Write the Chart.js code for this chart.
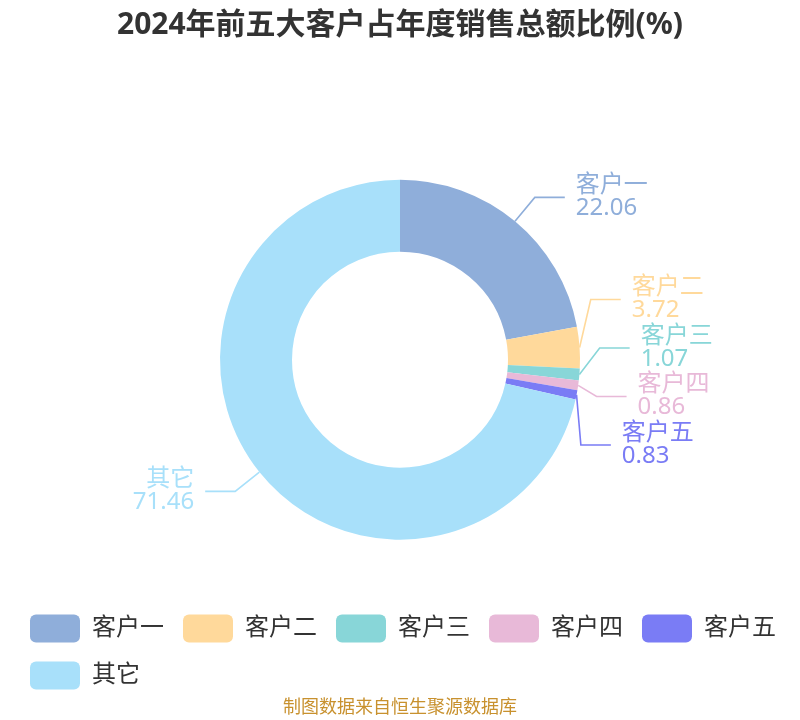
<!DOCTYPE html>
<html>
<head>
<meta charset="utf-8">
<script src="https://cdn.jsdelivr.net/npm/chart.js@4.4.1/dist/chart.umd.min.js"></script>
<style>
  html, body { margin: 0; padding: 0; background: #ffffff; }
  #wrap { width: 800px; height: 720px; }
</style>
</head>
<body>
<div id="wrap"><canvas id="c" width="800" height="720"></canvas></div>
<script>
const titleText = '2024年前五大客户占年度销售总额比例(%)';
const footerText = '制图数据来自恒生聚源数据库';
const categories = ['客户一', '客户二', '客户三', '客户四', '客户五', '其它'];
const values = [22.06, 3.72, 1.07, 0.86, 0.83, 71.46];
const colors = ['#8FAEDA', '#FFD99B', '#88D6D8', '#E8B9D8', '#7A7CF5', '#A8E0FA'];

const FONT = '"Noto Sans", "Noto Sans CJK SC", sans-serif';

const labelPlugin = {
  id: 'outLabels',
  afterLayout(chart) {
    const lg = chart.legend;
    if (lg) { lg.left += 11; lg.right += 11; lg.top += 2; lg.bottom += 2; }
  },
  afterDatasetsDraw(chart) {
    const meta = chart.getDatasetMeta(0);
    const ctx = chart.ctx;
    const items = [];
    meta.data.forEach((arc, i) => {
      const p = arc.getProps(['x', 'y', 'startAngle', 'endAngle', 'outerRadius'], true);
      const mid = (p.startAngle + p.endAngle) / 2;
      const cx = p.x, cy = p.y, R = p.outerRadius;
      const cos = Math.cos(mid), sin = Math.sin(mid);
      items.push({
        i, cx, cy, R,
        right: cos >= 0,
        sx: cx + R * cos, sy: cy + R * sin,
        ny: cy + (R + 31) * sin,
        nx: cx + (R + 31) * cos,
        y: cy + (R + 31) * sin
      });
    });
    const spacing = 48.5;
    [true, false].forEach(side => {
      const list = items.filter(o => o.right === side).sort((a, b) => a.ny - b.ny);
      let clusters = list.map(o => ({ members: [o] }));
      const place = cl => {
        const mean = cl.members.reduce((s, o) => s + o.ny, 0) / cl.members.length;
        const n = cl.members.length;
        cl.members.forEach((o, k) => { o.y = mean + (k - (n - 1) / 2) * spacing - (n > 1 ? 6 : 0); });
      };
      clusters.forEach(place);
      let changed = true;
      while (changed) {
        changed = false;
        for (let k = 0; k < clusters.length - 1; k++) {
          const a = clusters[k], b = clusters[k + 1];
          const lastA = a.members[a.members.length - 1], firstB = b.members[0];
          if (firstB.y - lastA.y < spacing) {
            a.members = a.members.concat(b.members);
            clusters.splice(k + 1, 1);
            place(a);
            changed = true;
            break;
          }
        }
      }
    });
    ctx.save();
    items.forEach(o => {
      const col = colors[o.i];
      const dir = o.right ? 1 : -1;
      const dy = o.y - o.cy;
      let ex;
      if (Math.abs(o.y - o.ny) < 1) {
        ex = o.nx;
      } else {
        const RR = o.R + 20;
        ex = o.cx + dir * Math.sqrt(Math.max(0, RR * RR - dy * dy));
      }
      const hx = ex + dir * 30;
      ctx.strokeStyle = col;
      ctx.lineWidth = 1.6;
      ctx.beginPath();
      ctx.moveTo(o.sx, o.sy);
      ctx.lineTo(ex, o.y);
      ctx.lineTo(hx, o.y);
      ctx.stroke();
      ctx.fillStyle = col;
      ctx.font = '24px ' + FONT;
      ctx.textAlign = o.right ? 'left' : 'right';
      ctx.textBaseline = 'middle';
      const tx = hx + dir * 11;
      ctx.fillText(categories[o.i], tx, o.y - 12);
      ctx.fillText(values[o.i].toFixed(2), tx, o.y + 11);
    });
    ctx.restore();
  }
};

new Chart(document.getElementById('c'), {
  type: 'doughnut',
  data: {
    labels: categories,
    datasets: [{
      data: values,
      backgroundColor: colors,
      borderWidth: 0,
      radius: 180,
      cutout: '60%'
    }]
  },
  options: {
    responsive: false,
    animation: false,
    layout: { padding: { top: 0, bottom: 0, left: 0, right: 0 } },
    plugins: {
      title: {
        display: true,
        text: titleText,
        color: '#333333',
        font: { family: FONT, size: 30, weight: 'bold' },
        padding: { top: 7, bottom: 83 }
      },
      legend: {
        display: true,
        position: 'bottom',
        align: 'start',
        labels: {
          boxWidth: 50,
          boxHeight: 28,
          padding: 19,
          useBorderRadius: true,
          borderRadius: 6,
          color: '#333333',
          font: { family: FONT, size: 24 }
        }
      },
      subtitle: {
        display: true,
        position: 'bottom',
        text: footerText,
        color: '#C8912E',
        font: { family: FONT, size: 18 },
        padding: { top: 0, bottom: 1 }
      },
      tooltip: { enabled: false }
    }
  },
  plugins: [labelPlugin]
});
</script>
</body>
</html>
